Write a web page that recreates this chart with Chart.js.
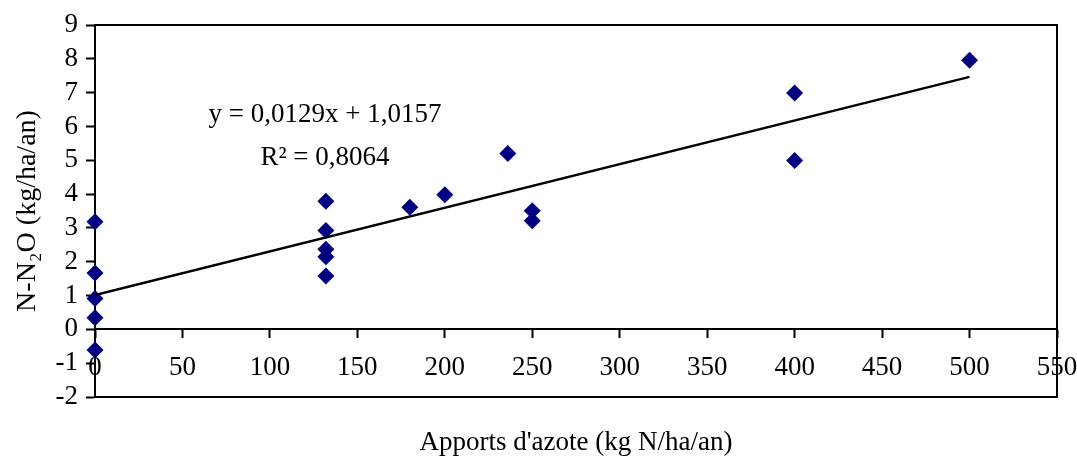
<!DOCTYPE html>
<html>
<head>
<meta charset="utf-8">
<script src="https://cdn.jsdelivr.net/npm/chart.js@4.4.1/dist/chart.umd.min.js"></script>
<style>
  html, body { margin: 0; padding: 0; background: #ffffff; }
  #wrap { width: 1077px; height: 459px; position: relative; }
</style>
</head>
<body>
<div id="wrap"><canvas id="c" width="1077" height="459"></canvas></div>
<script>
// Data
const nitrogenInput = [0, 0, 0, 0, 0, 132, 132, 132, 132, 132, 180, 200, 236, 250, 250, 400, 400, 500];
const n2oEmission  = [3.18, 1.67, 0.91, 0.34, -0.61, 3.79, 2.92, 2.37, 2.15, 1.58, 3.61, 3.98, 5.2, 3.51, 3.21, 6.99, 4.99, 7.96];
const trendX = [0, 500];
const trendY = [1.0157, 7.4657];
const xTicks = [0, 50, 100, 150, 200, 250, 300, 350, 400, 450, 500, 550];
const yTicks = [-2, -1, 0, 1, 2, 3, 4, 5, 6, 7, 8, 9];
const equationLines = ['y = 0,0129x + 1,0157', 'R² = 0,8064'];
const xTitle = "Apports d'azote (kg N/ha/an)";
const yTitle = 'N-N₂O (kg/ha/an)';

const FONT = 'Liberation Serif, Times New Roman, serif';
Chart.defaults.font.family = FONT;
Chart.defaults.color = '#000';

const points = nitrogenInput.map((x, i) => ({ x: x, y: n2oEmission[i] }));
const trend = trendX.map((x, i) => ({ x: x, y: trendY[i] }));

const framePlugin = {
  id: 'frame',
  afterDraw(chart) {
    const { ctx, chartArea: a } = chart;
    ctx.save();
    ctx.strokeStyle = '#000';
    ctx.lineWidth = 2;
    ctx.beginPath();
    ctx.moveTo(a.left, a.top);
    ctx.lineTo(a.right, a.top);
    ctx.lineTo(a.right, a.bottom);
    ctx.stroke();
    ctx.restore();
  }
};

const equationPlugin = {
  id: 'equation',
  afterDatasetsDraw(chart) {
    const { ctx, scales } = chart;
    const cx = scales.x.getPixelForValue(131.5);
    ctx.save();
    ctx.fillStyle = '#000';
    ctx.font = '27px ' + FONT;
    ctx.textAlign = 'center';
    ctx.textBaseline = 'middle';
    ctx.fillText(equationLines[0], cx, scales.y.getPixelForValue(6.33));
    ctx.fillText(equationLines[1], cx, scales.y.getPixelForValue(5.08));
    ctx.restore();
  }
};

new Chart(document.getElementById('c'), {
  type: 'scatter',
  data: {
    datasets: [
      {
        label: 'trend',
        type: 'line',
        data: trend,
        borderColor: '#000',
        borderWidth: 2.5,
        pointRadius: 0,
        fill: false,
        order: 0
      },
      {
        label: 'N2O',
        data: points,
        pointStyle: 'rectRot',
        pointRadius: 8.5,
        pointHoverRadius: 8.5,
        backgroundColor: '#000080',
        borderColor: '#000080',
        borderWidth: 0,
        clip: false,
        order: 1
      }
    ]
  },
  plugins: [framePlugin, equationPlugin],
  options: {
    responsive: false,
    animation: false,
    events: [],
    layout: { padding: { top: 25, right: 20, left: 0, bottom: 0 } },
    plugins: { legend: { display: false }, tooltip: { enabled: false } },
    scales: {
      x: {
        type: 'linear',
        position: 'bottom',
        min: 0, max: 550,
        ticks: { display: false },
        grid: { display: false },
        border: { display: true, color: '#000', width: 2 },
        title: { display: true, text: xTitle, font: { size: 27, family: FONT }, color: '#000', padding: { top: 3, bottom: 0 } },
        afterFit(scale) { scale.height = 62; scale.paddingLeft = 0; scale.paddingRight = 0; }
      },
      x2: {
        type: 'linear',
        position: { y: 0 },
        min: 0, max: 550,
        afterBuildTicks(scale) { scale.ticks = xTicks.map(v => ({ value: v })); },
        ticks: { font: { size: 27, family: FONT }, color: '#000', padding: 14, maxRotation: 0, autoSkip: false },
        grid: { drawOnChartArea: false, drawTicks: true, tickLength: 8, tickColor: '#000', tickWidth: 2 },
        border: { display: true, color: '#000', width: 2 },
        afterFit(scale) { scale.paddingLeft = 0; scale.paddingRight = 0; }
      },
      y: {
        type: 'linear',
        position: 'left',
        min: -2, max: 9,
        afterBuildTicks(scale) { scale.ticks = yTicks.map(v => ({ value: v })); },
        ticks: { font: { size: 27, family: FONT }, color: '#000', padding: 8, autoSkip: false },
        grid: { drawOnChartArea: false, drawTicks: true, tickLength: 9, tickColor: '#000', tickWidth: 2 },
        border: { display: true, color: '#000', width: 2 },
        title: { display: true, text: yTitle, font: { size: 28, family: FONT }, color: '#000', padding: { top: 11, bottom: 0 } },
        afterFit(scale) { scale.width = 95; scale.paddingTop = 0; scale.paddingBottom = 0; }
      }
    }
  }
});
</script>
</body>
</html>
